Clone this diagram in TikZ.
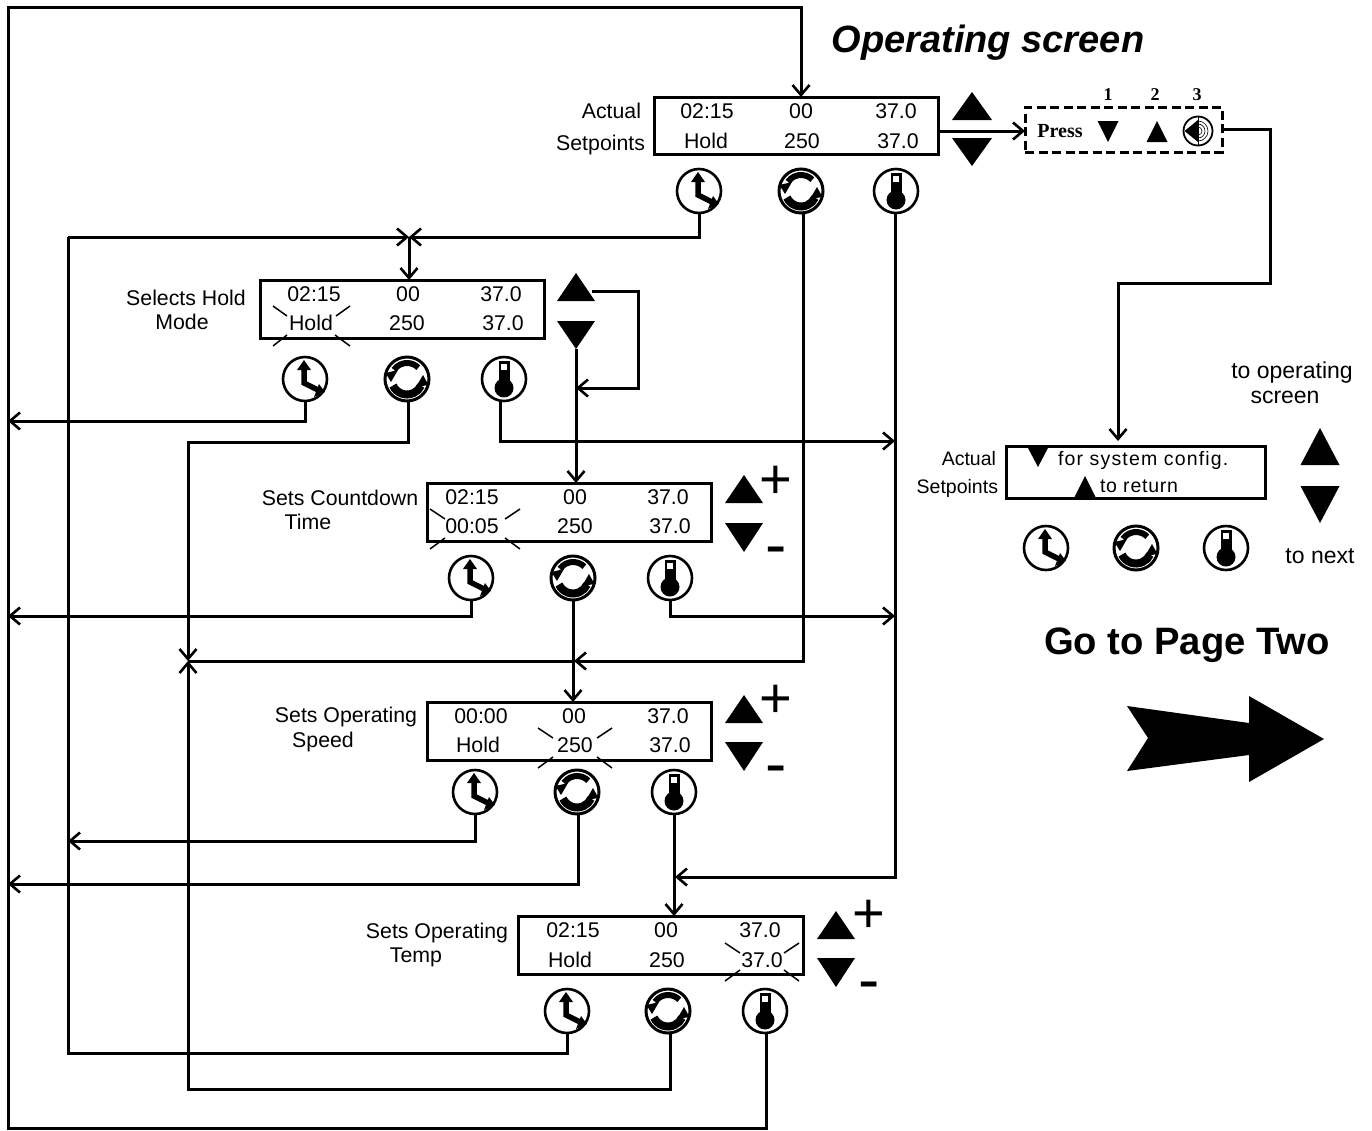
\documentclass[tikz,border=0pt]{standalone}
\usepackage{fontspec}
\setmainfont{Liberation Sans}
\newfontfamily\pressfont{Liberation Serif}
\usetikzlibrary{arrows.meta,calc}
\tikzset{
 conn/.style={line width=3pt,line join=miter},
 arr/.style={conn,-{Straight Barb[length=10pt,width=17pt,line width=2.6pt]}},
 screenbox/.style={draw,line width=3pt,rectangle,inner sep=0,outer sep=0},
 lab/.style={inner sep=0,outer sep=0,font=\fontsize{21.3}{24}\selectfont},
 biglab/.style={inner sep=0,outer sep=0,font=\fontsize{23}{26}\selectfont},
 smalllab/.style={inner sep=0,outer sep=0,font=\fontsize{19.5}{22}\selectfont},
 iconring/.style={circle,draw,line width=2.6pt,minimum size=44pt,inner sep=0,outer sep=0,fill=white},
 tick/.style={line width=1.5pt},
 pmark/.style={inner sep=0,outer sep=0,font=\fontsize{56}{60}\selectfont},
 mmark/.style={inner sep=0,outer sep=0,font=\fontsize{64}{68}\selectfont},
}
% screen: name, x0, y0, x1, y1
\newcommand{\scrbox}[5]{\node[screenbox,minimum width={#4-#2},minimum height={#5-#3}] (#1) at ({(#2+#4)/2},{(#3+#5)/2}) {};}
% text with centre of digits at given place
\newcommand{\rowtxt}[4]{\node[lab,anchor=base] (#1) at (#2,{#3+7.5}) {#4};}
% triangles: name, x, ytop, ybottom, half width
\newcommand{\triup}[5]{\fill (#2,#3) -- (#2+#5,#4) -- (#2-#5,#4) -- cycle; \coordinate (#1) at (#2,#3);}
\newcommand{\tridn}[5]{\fill (#2,#4) -- (#2+#5,#3) -- (#2-#5,#3) -- cycle; \coordinate (#1) at (#2,#4);}
% icons
\newcommand{\clockicon}[3]{\node[iconring] (#1) at (#2,#3) {};
 \begin{scope}[shift={(#2,#3)}]
  \fill (-1,-19) -- (6,-9) -- (-8,-9) -- cycle;
  \draw[line width=5.5pt,line join=miter] (-1,-10) -- (-1,4) -- (13,11);
  \fill (20,13) -- (9,18) -- (14,5) -- cycle;
 \end{scope}}
\newcommand{\cycleicon}[3]{\node[iconring,line width=3pt] (#1) at (#2,#3) {};
 \begin{scope}[shift={(#2,#3)}]
  \draw[line width=6pt] (-145:16) arc[start angle=-145,end angle=-45,radius=16];
  \fill (-16,3) -- (-21.5,-6) -- (-9,-9) -- cycle;
  \draw[line width=8pt] (155:15.5) arc[start angle=155,end angle=25,radius=15.5];
  \fill (16,-4) -- (21.5,6) -- (9,8) -- cycle;
 \end{scope}}
\newcommand{\thermicon}[3]{\node[iconring] (#1) at (#2,#3) {};
 \begin{scope}[shift={(#2,#3)}]
  \fill (-5.5,-18) rectangle (5.5,8);
  \fill (0,9) circle[radius=9.5];
  \fill[white] (-2.8,-15.5) rectangle (2.8,-9.5);
 \end{scope}}
\newcommand{\iconrow}[7]{\clockicon{#1c}{#2}{#3}\cycleicon{#1o}{#4}{#5}\thermicon{#1t}{#6}{#7}}
\begin{document}
\begin{tikzpicture}[x=1pt,y=-1pt]
\useasboundingbox (0,0) rectangle (1372,1130);
\fill[white] (0,0) rectangle (1372,1130);

% titles
\node[inner sep=0,font=\fontsize{38}{42}\bfseries\itshape\selectfont] (title) at (988,43) {Operating screen};
\node[inner sep=0,font=\fontsize{38.2}{42}\bfseries\selectfont] (gopage) at (1187,645) {Go to Page Two};
\fill (1324,739) -- (1249,696) -- (1249,723) -- (1127,706) -- (1148,738) -- (1127,771) -- (1249,755) -- (1249,782) -- cycle;

% operating screen
\scrbox{s0}{654}{97}{938}{154}
\rowtxt{s0a}{707}{111}{02:15}\rowtxt{s0b}{801}{111}{00}\rowtxt{s0d}{896}{111}{37.0}
\rowtxt{s0e}{706}{141}{Hold}\rowtxt{s0f}{802}{141}{250}\rowtxt{s0g}{898}{141}{37.0}
\node[lab,anchor=base east] (s0l1) at (641,118) {Actual};
\node[lab,anchor=base east] (s0l2) at (645,150) {Setpoints};
\iconrow{i0}{699}{191}{801}{191}{896}{191}
\triup{t0u}{972}{92}{120}{20}\tridn{t0d}{972}{138}{166}{20}

% press box
\node[draw,dash pattern=on 9pt off 4.5pt,line width=3pt,minimum width=197pt,minimum height=45pt,inner sep=0,outer sep=0] (press) at (1123.5,129.5) {};
\node[inner sep=0,font=\pressfont\fontsize{20}{22}\bfseries\selectfont] (presst) at (1060,131) {Press};
\tridn{pd}{1108}{121}{142}{10.5}\triup{pu}{1157}{121}{142}{10.5}
\node[inner sep=0,font=\pressfont\fontsize{18}{20}\bfseries\selectfont] (n1) at (1108,95) {1};
\node[inner sep=0,font=\pressfont\fontsize{18}{20}\bfseries\selectfont] (n2) at (1155,95) {2};
\node[inner sep=0,font=\pressfont\fontsize{18}{20}\bfseries\selectfont] (n3) at (1197,95) {3};
\node[circle,draw,line width=1.8pt,minimum size=29pt,inner sep=0,outer sep=0] (spk) at (1198,131) {};
\fill (1184.5,131) -- (1198,120) -- (1198,142) -- cycle;
\fill (1191,127) rectangle (1198,135);
\draw[line width=1pt] (1198,117) -- (1198,145);
\foreach \r in {4,7,10}{\draw[line width=.6pt] (1198,{131-\r}) arc[start angle=-90,end angle=90,radius=\r];}

% hold screen
\scrbox{s1}{260}{280}{544}{338}
\rowtxt{s1a}{314}{294}{02:15}\rowtxt{s1b}{408}{294}{00}\rowtxt{s1d}{501}{294}{37.0}
\rowtxt{s1e}{311}{323}{Hold}\rowtxt{s1f}{407}{323}{250}\rowtxt{s1g}{503}{323}{37.0}
\node[lab] (s1l1) at (186,298) {Selects Hold};
\node[lab] (s1l2) at (182,322) {Mode};
\iconrow{i1}{305}{379}{407}{379}{504}{379}
\triup{t1u}{576}{273}{301}{19}\tridn{t1d}{576}{321}{349}{19}
\draw[tick] (273,306)--(287,316) (350,306)--(336,316) (273,346)--(287,335) (350,346)--(335,335);

% countdown screen
\scrbox{s2}{427}{483}{711}{541}
\rowtxt{s2a}{472}{497}{02:15}\rowtxt{s2b}{575}{497}{00}\rowtxt{s2d}{668}{497}{37.0}
\rowtxt{s2e}{472}{526}{00:05}\rowtxt{s2f}{575}{526}{250}\rowtxt{s2g}{670}{526}{37.0}
\node[lab] (s2l1) at (340,498) {Sets Countdown};
\node[lab] (s2l2) at (308,522) {Time};
\iconrow{i2}{471}{578}{573}{578}{670}{578}
\triup{t2u}{744}{475}{503}{19}\tridn{t2d}{744}{523}{552}{19}
\node[pmark] (p2) at (776,482) {+};
\node[mmark] (m2) at (776,557) {-};
\draw[tick] (430,509)--(445,519) (520,509)--(505,519) (430,549)--(445,538) (520,549)--(505,538);

% speed screen
\scrbox{s3}{427}{702}{711}{760}
\rowtxt{s3a}{481}{716}{00:00}\rowtxt{s3b}{574}{716}{00}\rowtxt{s3d}{668}{716}{37.0}
\rowtxt{s3e}{478}{745}{Hold}\rowtxt{s3f}{575}{745}{250}\rowtxt{s3g}{670}{745}{37.0}
\node[lab] (s3l1) at (346,717) {Sets Operating};
\node[lab] (s3l2) at (323,742) {Speed};
\iconrow{i3}{475}{792}{577}{792}{674}{792}
\triup{t3u}{744}{695}{723}{19}\tridn{t3d}{744}{742}{771}{19}
\node[pmark] (p3) at (776,701) {+};
\node[mmark] (m3) at (776,776) {-};
\draw[tick] (538,728)--(553,738) (612,728)--(597,738) (538,768)--(553,757) (612,768)--(597,757);

% temp screen
\scrbox{s4}{518}{916}{803}{974}
\rowtxt{s4a}{573}{930}{02:15}\rowtxt{s4b}{666}{930}{00}\rowtxt{s4d}{760}{930}{37.0}
\rowtxt{s4e}{570}{960}{Hold}\rowtxt{s4f}{667}{960}{250}\rowtxt{s4g}{762}{960}{37.0}
\node[lab] (s4l1) at (437,933) {Sets Operating};
\node[lab] (s4l2) at (416,957) {Temp};
\iconrow{i4}{567}{1011}{668}{1011}{765}{1011}
\triup{t4u}{836}{911}{939}{19}\tridn{t4d}{836}{958}{987}{19}
\node[pmark] (p4) at (869,916) {+};
\node[mmark] (m4) at (869,992) {-};
\draw[tick] (725,943)--(740,953) (799,943)--(784,953) (725,981)--(740,970) (799,981)--(784,970);

% system config screen
\scrbox{s5}{1006}{446}{1265}{498}
\node[smalllab,anchor=base west] (s5a) at (1058,465) {\addfontfeature{LetterSpace=6}for system config.};
\node[smalllab,anchor=base west] (s5b) at (1100,492) {\addfontfeature{LetterSpace=4}to return};
\tridn{s5d}{1038}{446}{467}{11}\triup{s5u}{1085}{476}{498}{11}
\node[smalllab,anchor=base east] (s5l1) at (996,465) {Actual};
\node[smalllab,anchor=base east] (s5l2) at (998,493) {Setpoints};
\iconrow{i5}{1046}{548}{1136}{548}{1226}{548}
\triup{t5u}{1320}{428}{465}{19.5}\tridn{t5d}{1320}{486}{523}{19.5}
\node[biglab] (to1) at (1292,373) {to operating};
\node[biglab] (to2) at (1285,397) {screen};
\node[biglab] (to3) at (1320,556) {to next};

% junctions
\coordinate (TL) at (8,7); \coordinate (TR) at (801,7);
\coordinate (BL) at (8,1128); \coordinate (BR) at (766,1128);
\coordinate (LL) at (8,421);
\coordinate (J1) at (409,237); \coordinate (J1w) at (68,237); \coordinate (J1e) at (699,237);
\coordinate (J2) at (188,661); \coordinate (J3) at (574,661); \coordinate (J4) at (803,661);
\coordinate (R1) at (895,441); \coordinate (R2) at (895,616); \coordinate (R3) at (895,877);
\coordinate (C1) at (576,388); \coordinate (T1r) at (638,291); \coordinate (T1b) at (638,388);
\coordinate (P1) at (1270,129); \coordinate (P2) at (1270,283); \coordinate (P3) at (1118,283); \coordinate (P4) at (1118,441);

% connectors
\draw[arr] (i4t.south -| BR) -- (BR) -- (BL) -- (TL) -- (TR) -- (s0.north -| TR);
\draw[arr] (938,131) -- (press.west |- 0,131);
\draw[arr] (press.east |- P1) -- (P1) -- (P2) -- (P3) -- (P4);
\draw[arr] (i0c.south) -- (J1e) -- (J1);
\draw[arr] (J1w) -- (J1);
\draw[arr] (J1) -- (s1.north -| J1);
\draw[conn] (i4c.south) -- (567,1053) -- (68,1053) -- (J1w);
\draw[arr] (i3c.south) -- (475,841) -- (68,841);
\draw[arr] (i1c.south) -- (305,421) -- (LL);
\draw[arr] (i1o.south -| 408,0) -- (408,442) -- (188,442) -- (J2);
\draw[arr] (i4o.south -| 670,0) -- (670,1089) -- (188,1089) -- (J2);
\draw[arr] (i0o.south -| J4) -- (J4) -- (J3);
\draw[conn] (J3) -- (J2);
\draw[arr] (i1t.south -| 500,0) -- (500,441) -- (R1);
\draw[arr] (i0t.south -| R3) -- (R3) -- (675,877);
\draw[arr] (592,291) -- (T1r) -- (T1b) -- (C1);
\draw[arr] (t1d) -- (s2.north -| t1d);
\draw[arr] (i2c.south) -- (471,616) -- (8,616);
\draw[arr] (i2t.south) -- (670,616) -- (R2);
\draw[arr] (i2o.south) -- (s3.north -| i2o.south);
\draw[arr] (i3o.south -| 578,0) -- (578,884) -- (8,884);
\draw[arr] (i3t.south) -- (s4.north -| i3t.south);
\end{tikzpicture}
\end{document}
